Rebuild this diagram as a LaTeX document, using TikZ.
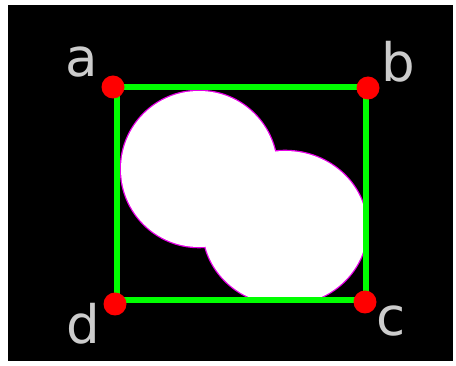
\documentclass[tikz,border=0pt]{standalone}
\usepackage{fontspec}
\setmainfont{DejaVu Sans}
\definecolor{lblgray}{RGB}{204,204,204}
\definecolor{pureGreen}{RGB}{0,255,0}
\definecolor{pureRed}{RGB}{255,0,0}
\definecolor{pureMagenta}{RGB}{230,0,230}
\tikzset{
  corner/.style={circle, fill=pureRed, draw=none, minimum size=23pt, inner sep=0pt},
  lbl/.style={text=lblgray, inner sep=0pt, anchor=base, font=\fontsize{53}{53}\selectfont},
  boxline/.style={draw=pureGreen, line width=6pt},
  blobedge/.style={draw=pureMagenta, line width=2.6pt},
}
\begin{document}
\begin{tikzpicture}[x=1pt,y=-1pt]
\useasboundingbox (0,0) rectangle (456,366);
\fill[white] (0,0) rectangle (456,366);
\fill[black] (8,5) rectangle (453,361);
% blob: two overlapping discs, cut off by the box
\begin{scope}
\clip (117,87) rectangle (366,300);
\draw[blobedge] (199,169) circle[radius=78];
\draw[blobedge] (285,228) ellipse[x radius=82, y radius=77];
\fill[white] (199,169) circle[radius=78];
\fill[white] (285,228) ellipse[x radius=82, y radius=77];
\end{scope}
% green box
\draw[boxline] (117,87) rectangle (366,300);
% corner points
\node[corner] (a) at (113,87) {};
\node[corner] (b) at (368,88) {};
\node[corner] (c) at (365,302) {};
\node[corner] (d) at (115,304) {};
% labels
\node[lbl] (la) at (82,77) {a};
\node[lbl] (lb) at (398,82) {b};
\node[lbl] (lc) at (391,336) {c};
\node[lbl] (ld) at (83,344) {d};
\end{tikzpicture}
\end{document}
